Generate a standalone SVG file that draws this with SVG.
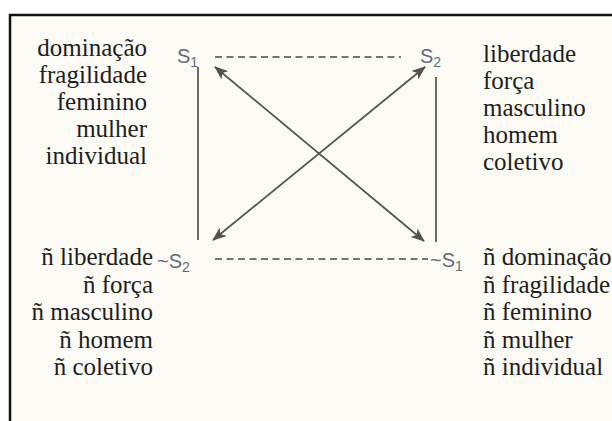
<svg xmlns="http://www.w3.org/2000/svg" width="612" height="421" viewBox="0 0 612 421">
<defs>
<marker id="ah" viewBox="0 0 14 11" refX="13" refY="5.5" markerWidth="14" markerHeight="11" markerUnits="userSpaceOnUse" orient="auto-start-reverse">
<path d="M0,0 L14,5.5 L0,11 L3.5,5.5 Z" fill="#574f48"/>
</marker>
<style>
.w{font-family:"Liberation Serif","Times New Roman",serif;font-size:25px;fill:#1f1e1c}
.s{font-family:"Liberation Sans",Arial,sans-serif;font-size:20px;fill:#676b76}
.sub{font-size:14px}
.solid{stroke:#55514d;stroke-width:1.7;fill:none}
.dash{stroke:#4a4845;stroke-width:1.6;stroke-dasharray:7 4.5;fill:none}
.arr{stroke:#5a534c;stroke-width:1.7;fill:none;marker-start:url(#ah);marker-end:url(#ah)}
</style>
</defs>
<rect x="0" y="0" width="612" height="421" fill="#ffffff"/>
<rect x="10" y="15" width="602" height="406" fill="#fbfaf4"/>
<path d="M10,421 V15 H612" stroke="#111" stroke-width="2.5" fill="none"/>

<g id="connectors">
<line class="dash" x1="215" y1="57" x2="401" y2="57"/>
<line class="dash" x1="215" y1="259" x2="428" y2="259"/>
<line class="solid" x1="198" y1="67" x2="198" y2="240"/>
<line class="solid" x1="436" y1="77" x2="436" y2="242"/>
<line class="arr" x1="213" y1="240" x2="425" y2="67"/>
<line class="arr" x1="215" y1="67" x2="424" y2="241"/>
</g>

<g id="s1">
<text class="s" x="177" y="63">S<tspan class="sub" dy="4">1</tspan></text>
<text class="w" text-anchor="end" x="147" y="56">dominação</text>
<text class="w" text-anchor="end" x="147" y="83">fragilidade</text>
<text class="w" text-anchor="end" x="147" y="110">feminino</text>
<text class="w" text-anchor="end" x="147" y="137">mulher</text>
<text class="w" text-anchor="end" x="147" y="164">individual</text>
</g>

<g id="s2">
<text class="s" x="420" y="63">S<tspan class="sub" dy="4">2</tspan></text>
<text class="w" x="483" y="62">liberdade</text>
<text class="w" x="483" y="89">força</text>
<text class="w" x="483" y="116">masculino</text>
<text class="w" x="483" y="143">homem</text>
<text class="w" x="483" y="170">coletivo</text>
</g>

<g id="not-s2">
<text class="s" x="157" y="268">~S<tspan class="sub" dy="4">2</tspan></text>
<text class="w" text-anchor="end" x="153" y="265">ñ liberdade</text>
<text class="w" text-anchor="end" x="153" y="292.5">ñ força</text>
<text class="w" text-anchor="end" x="153" y="320">ñ masculino</text>
<text class="w" text-anchor="end" x="153" y="347.5">ñ homem</text>
<text class="w" text-anchor="end" x="153" y="375">ñ coletivo</text>
</g>

<g id="not-s1">
<text class="s" x="430" y="267">~S<tspan class="sub" dy="4">1</tspan></text>
<text class="w" x="483" y="265">ñ dominação</text>
<text class="w" x="483" y="292.5">ñ fragilidade</text>
<text class="w" x="483" y="320">ñ feminino</text>
<text class="w" x="483" y="347.5">ñ mulher</text>
<text class="w" x="483" y="375">ñ individual</text>
</g>
</svg>
